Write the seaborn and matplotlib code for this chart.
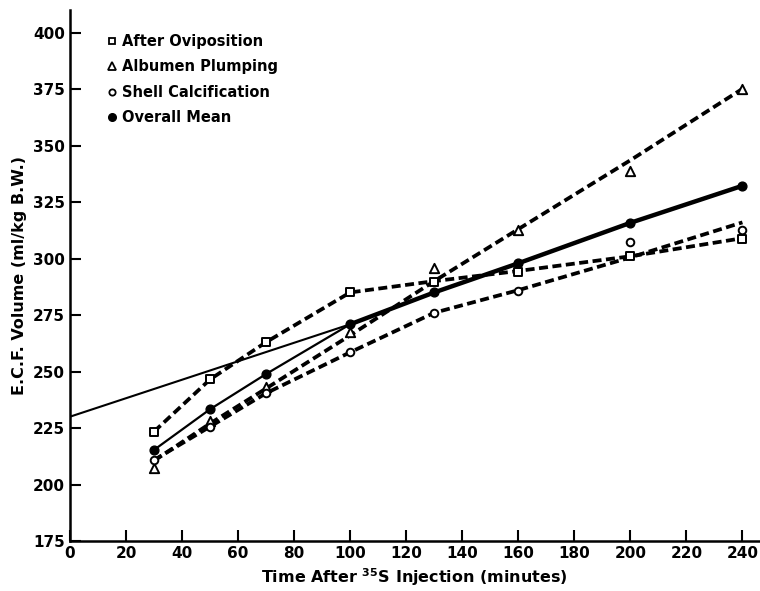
import numpy as np
import pandas as pd
import seaborn as sns
import matplotlib
matplotlib.use("Agg")
import matplotlib.pyplot as plt
from matplotlib.lines import Line2D

# sampling times (minutes after 35S injection)
time = [30, 50, 70, 100, 130, 160, 200, 240]

# measured ECF volumes (ml/kg B.W.)
after_oviposition = [223.4, 246.5, 262.9, 285.0, 289.7, 294.2, 301.0, 308.6]
albumen_plumping = [207.4, 228.2, 243.0, 267.6, 295.7, 312.6, 338.7, 375.1]
shell_calcification = [210.8, 225.6, 240.4, 258.5, 276.0, 285.6, 307.4, 312.6]
overall_mean = [215.3, 233.3, 248.9, 270.9, 285.0, 297.9, 315.8, 332.2]

# fitted curves drawn through the groups
fit_oviposition = [223.4, 246.5, 263.0, 285.0, 290.0, 294.5, 301.0, 309.0]
fit_plumping = [210.5, 227.0, 242.5, 266.0, 290.0, 313.0, 343.5, 375.1]
fit_calcification = [210.8, 225.6, 240.4, 258.5, 276.0, 286.0, 300.5, 316.0]

# extrapolation of the overall mean back to time zero
extrap_time = [0, 100]
extrap_vol = [230.0, 270.9]

yticks = [175, 200, 225, 250, 275, 300, 325, 350, 375, 400]
xticks = list(range(0, 241, 20))

sns.set_style("ticks", {'text.color': 'black', 'axes.labelcolor': 'black',
                        'xtick.color': 'black', 'ytick.color': 'black',
                        'axes.edgecolor': 'black'})
plt.rcParams['font.family'] = ['DejaVu Sans']
plt.rcParams['font.weight'] = 'bold'
plt.rcParams['mathtext.default'] = 'bf'

fig = plt.figure(figsize=(7.6, 5.91), dpi=100)
ax = fig.add_axes([0.092, 0.0846, 0.907, 0.8985])

dash = (0, (2.4, 1.2))
for fit in (fit_oviposition, fit_plumping, fit_calcification):
    sns.lineplot(x=time, y=fit, ax=ax, color='black', lw=2.7, linestyle=dash,
                 sort=False, estimator=None)

sns.lineplot(x=extrap_time, y=extrap_vol, ax=ax, color='black', lw=1.5, estimator=None)
sns.lineplot(x=time, y=overall_mean, ax=ax, color='black', lw=1.6, estimator=None)
late = pd.DataFrame({'t': time, 'v': overall_mean}).query('t >= 100')
sns.lineplot(data=late, x='t', y='v', ax=ax, color='black', lw=3.2, estimator=None)

sns.scatterplot(x=time, y=after_oviposition, ax=ax, marker='s', facecolor='white', edgecolor='black', s=32, linewidth=1.4, zorder=5)
sns.scatterplot(x=time, y=albumen_plumping, ax=ax, marker='^', facecolor='white', edgecolor='black', s=45, linewidth=1.4, zorder=5)
sns.scatterplot(x=time, y=shell_calcification, ax=ax, marker='o', facecolor='white', edgecolor='black', s=30, linewidth=1.4, zorder=5)
sns.scatterplot(x=time, y=overall_mean, ax=ax, marker='o', facecolor='black', edgecolor='black', s=40, linewidth=1.0, zorder=6)

ax.set_xlim(0, 246)
ax.set_ylim(175, 410)
ax.set_xticks(xticks)
ax.set_yticks(yticks)
ax.tick_params(direction='in', length=8, width=1.5, labelsize=11, colors='black')
for lab in ax.get_xticklabels() + ax.get_yticklabels():
    lab.set_fontweight('bold')
sns.despine(ax=ax)
for s in ('left', 'bottom'):
    ax.spines[s].set_linewidth(1.8)
    ax.spines[s].set_color('black')

ax.set_xlabel(r'Time After $^{35}$S Injection (minutes)', fontsize=11.5, fontweight='bold', color='black')
ax.set_ylabel('E.C.F. Volume (ml/kg B.W.)', fontsize=11.5, fontweight='bold', color='black')

handles = [
    Line2D([], [], ls='none', marker='s', mfc='white', mec='black', ms=5, mew=1.3),
    Line2D([], [], ls='none', marker='^', mfc='white', mec='black', ms=6, mew=1.3),
    Line2D([], [], ls='none', marker='o', mfc='white', mec='black', ms=4.5, mew=1.3),
    Line2D([], [], ls='none', marker='o', mfc='black', mec='black', ms=5.5),
]
labels = ['After Oviposition', 'Albumen Plumping', 'Shell Calcification', 'Overall Mean']
leg = ax.legend(handles, labels, loc='upper left', bbox_to_anchor=(0.035, 0.98), frameon=False,
                handlelength=0.6, handletextpad=0.4, labelspacing=0.72,
                prop={'weight': 'bold', 'size': 10.5})
for t in leg.get_texts():
    t.set_color('black')

fig.savefig('out.png', dpi=100)
